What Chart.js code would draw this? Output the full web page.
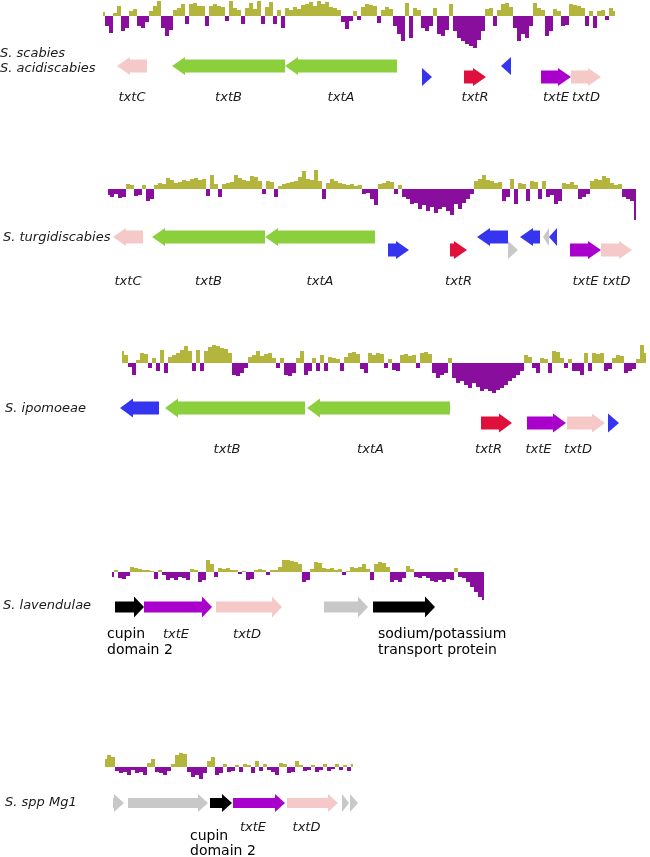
<!DOCTYPE html>
<html><head><meta charset="utf-8">
<script src="https://cdn.jsdelivr.net/npm/chart.js@4.4.1/dist/chart.umd.min.js"></script>
<style>html,body{margin:0;padding:0;background:#fff;}canvas{display:block}</style>
</head><body>
<canvas id="c" width="650" height="857"></canvas>
<script>
// ---------------- DATA ----------------
const speciesNames = ["S. scabies", "S. acidiscabies", "S. turgidiscabies", "S. ipomoeae", "S. lavendulae", "S. spp Mg1"];

// GC-skew style profile values (deviation from mean), one value per window
const gcStart = [103, 108, 122, 112, 105];
const gcStep = 4;
const gcTrack1 = [4,-10,-17,3,10,-15,-12,5,7,-10,-12,-6,5,10,15,-12,-20,-14,6,8,12,-8,12,13,10,10,-10,10,12,10,9,-5,15,8,6,-8,8,13,7,15,-8,9,14,-8,6,-12,8,6,9,7,11,12,14,10,15,12,14,9,8,6,-6,-13,-5,5,-4,9,12,11,10,-7,6,9,7,-10,-18,-25,13,-22,8,6,-12,-15,-10,8,-18,-20,-14,12,-15,-22,-25,-28,-30,-32,-24,-15,7,8,-10,6,12,13,9,-12,-25,-18,-22,-10,13,8,6,-20,-15,7,5,-10,-9,12,11,10,8,-10,5,-12,5,6,-4,8,5];
const gcTrack2 = [-6,-8,-5,-9,-8,5,4,-7,-6,4,-12,-10,4,6,5,11,9,6,7,9,8,10,11,9,10,-7,14,5,-8,5,6,7,14,11,9,8,13,12,8,-5,8,7,-8,3,5,6,7,8,12,18,10,9,19,8,-10,6,10,8,6,5,4,5,3,4,-5,-4,-10,-16,5,6,8,7,-5,4,-8,-10,-15,-14,-20,-16,-22,-18,-24,-20,-18,-22,-26,-15,-20,-14,-10,-5,8,10,14,9,8,6,7,-12,-8,10,-15,6,5,-12,8,7,-10,8,-8,-6,-15,-12,6,5,7,4,-10,-8,-5,8,10,9,13,11,6,4,5,-8,-10,-12,-31];
const gcTrack3 = [12,8,-4,-12,3,10,9,-5,5,-8,13,-10,6,8,10,13,17,12,-8,13,-8,12,16,18,17,15,14,10,-12,-13,-10,-5,6,8,12,7,9,10,5,-5,5,-12,-13,-10,5,12,-12,-8,5,-8,8,-8,6,5,4,-8,6,10,11,9,-6,-10,10,8,10,9,-5,4,-7,-8,8,9,7,8,-5,10,11,9,-10,-15,-12,-10,5,-15,-20,-18,-22,-25,-20,-24,-28,-26,-28,-30,-27,-25,-22,-18,-15,-12,-8,8,6,-5,-10,5,4,-10,12,11,5,-5,4,-8,-8,-12,10,-8,10,9,10,-8,-6,5,8,7,-10,-8,-6,4,18,10];
const gcTrack4 = [-5,2,-6,-7,-4,5,4,3,2,2,1,-7,2,-3,-8,-6,-8,-5,-6,-8,3,2,-10,-8,12,8,-5,4,3,4,2,2,-2,1,-8,-7,2,3,2,-3,2,2,5,12,12,11,10,8,-10,-8,3,10,9,4,3,4,2,3,-3,1,5,4,5,8,3,-8,8,10,9,5,-10,-8,-10,-6,6,3,-5,-6,-4,-6,-9,-10,-8,-10,-7,-8,4,-5,-6,-10,-15,-20,-25,-28];
const gcTrack5 = [8,12,10,-4,-6,-5,-8,-3,-6,-5,-8,4,8,-5,-6,-8,-4,3,12,14,13,-5,-10,-8,-12,-6,6,10,-8,-6,3,-5,-4,2,-5,3,2,-6,6,-4,3,-3,-5,-8,4,3,-6,-5,6,2,-4,-3,2,-5,-3,3,-4,-2,3,-3,2,-4,3];

// genes: [label, start, end, strand, kind, lane]
const genesTrack1 = [
  ["txtC",117,147,-1,"pink",0],
  ["txtB",172,285,-1,"green",0],
  ["txtA",285,397,-1,"green",0],
  ["",422,432,1,"blue",1],
  ["txtR",464,486,1,"red",1],
  ["",501,511,-1,"blue",0],
  ["txtE",541,571,1,"purple",1],
  ["txtD",571,601,1,"pink",1]
];
const genesTrack2 = [
  ["txtC",113,143,-1,"pink",0],
  ["txtB",152,265,-1,"green",0],
  ["txtA",265,375,-1,"green",0],
  ["",388,409,1,"blue",1],
  ["txtR",450,467,1,"red",1],
  ["",477,508,-1,"blue",0],
  ["",508,518,1,"grey",1],
  ["",520,540,-1,"blue",0],
  ["",543,549,-1,"grey",0],
  ["",549,557,-1,"blue",0],
  ["txtE",570,601,1,"purple",1],
  ["txtD",601,632,1,"pink",1]
];
const genesTrack3 = [
  ["",120,159,-1,"blue",0],
  ["txtB",165,305,-1,"green",0],
  ["txtA",307,450,-1,"green",0],
  ["txtR",481,512,1,"red",1],
  ["txtE",527,566,1,"purple",1],
  ["txtD",567,605,1,"pink",1],
  ["",608,619,1,"blue",1]
];
const genesTrack4 = [
  ["",115,144,1,"black",0],
  ["txtE",144,212,1,"purple",0],
  ["txtD",216,282,1,"pink",0],
  ["",324,368,1,"grey",0],
  ["",373,435,1,"black",0]
];
const genesTrack5 = [
  ["",113,124,1,"grey",0],
  ["",128,208,1,"grey",0],
  ["",210,232,1,"black",0],
  ["txtE",233,285,1,"purple",0],
  ["txtD",287,338,1,"pink",0],
  ["",342,349,1,"grey",0],
  ["",350,358,1,"grey",0]
];
const noteTexts = ["cupin","domain 2","sodium/potassium","transport protein","cupin","domain 2"];

// ---------------- LAYOUT / STYLE ----------------
const gcTracks = [gcTrack1, gcTrack2, gcTrack3, gcTrack4, gcTrack5];
const geneTracks = [genesTrack1, genesTrack2, genesTrack3, genesTrack4, genesTrack5];
const trackBase = [16, 189, 363, 572, 767];
const laneY = [[66,77],[237,250],[408,423],[607,607],[803,803]];
const geneLabelY = [98, 282, 450, 635, 828];
const labelShift = [0, 0, -8, -2, -6];
const arrowDims = [
  {body:6.5, head:9, len:13},{body:6.5, head:9, len:13},{body:6.5, head:9.5, len:13},
  {body:5.5, head:10.5, len:10},{body:5, head:9, len:10}
];
const speciesPos = [[0,54],[0,69],[3,238],[5,409],[3,606],[5,803]];
const notePos = [[107,634],[107,650],[378,634],[378,650],[190,836],[190,851]];
const COLORS = {green:'#8ccf3c', pink:'#f4c9c8', blue:'#3535f0', red:'#e0103c', purple:'#aa00cc', grey:'#c8c8c8', black:'#000000'};
const OLIVE = '#b4b53c', VIOLET = '#8a0e9e';

// ---------------- BUILD DATASETS ----------------
const datasets = [];
gcTracks.forEach((vals, t) => {
  const base = trackBase[t];
  const pts = vals.map((v, i) => ({x: gcStart[t] + i * gcStep, y: base - v}));
  datasets.push({
    type: 'line', data: pts, stepped: 'middle', borderWidth: 0, pointRadius: 0,
    borderColor: 'rgba(0,0,0,0)',
    fill: {target: {value: base}, above: OLIVE, below: VIOLET}
  });
});
function arrowPoly(s, e, strand, yc, d) {
  const L = e - s, hl = Math.min(d.len, L);
  if (strand > 0) {
    const n = e - hl;
    return [{x:s,y:yc-d.body},{x:n,y:yc-d.body},{x:n,y:yc-d.head},{x:e,y:yc},{x:n,y:yc+d.head},{x:n,y:yc+d.body},{x:s,y:yc+d.body}];
  } else {
    const n = s + hl;
    return [{x:e,y:yc-d.body},{x:n,y:yc-d.body},{x:n,y:yc-d.head},{x:s,y:yc},{x:n,y:yc+d.head},{x:n,y:yc+d.body},{x:e,y:yc+d.body}];
  }
}
geneTracks.forEach((genes, t) => {
  genes.forEach(g => {
    const [name, s, e, strand, kind, lane] = g;
    datasets.push({
      type: 'line', data: arrowPoly(s, e, strand, laneY[t][lane], arrowDims[t]),
      fill: 'shape', backgroundColor: COLORS[kind], borderColor: COLORS[kind],
      borderWidth: 0, pointRadius: 0, tension: 0
    });
  });
});

const textPlugin = {
  id: 'texts',
  afterDatasetsDraw(chart) {
    const {ctx, scales: {x, y}} = chart;
    ctx.save();
    ctx.textBaseline = 'middle';
    ctx.fillStyle = '#1a1a1a';
    ctx.font = 'italic 13px "DejaVu Sans"';
    ctx.textAlign = 'left';
    speciesNames.forEach((s, i) => ctx.fillText(s, x.getPixelForValue(speciesPos[i][0]), y.getPixelForValue(speciesPos[i][1])));
    ctx.textAlign = 'center';
    geneTracks.forEach((genes, t) => {
      genes.forEach(g => {
        if (!g[0]) return;
        ctx.fillText(g[0], x.getPixelForValue((g[1] + g[2]) / 2 + labelShift[t]), y.getPixelForValue(geneLabelY[t]));
      });
    });
    ctx.font = '14px "DejaVu Sans"';
    ctx.textAlign = 'left';
    ctx.fillStyle = '#000';
    noteTexts.forEach((s, i) => ctx.fillText(s, x.getPixelForValue(notePos[i][0]), y.getPixelForValue(notePos[i][1])));
    ctx.restore();
  }
};

new Chart(document.getElementById('c'), {
  type: 'line',
  data: {datasets},
  options: {
    responsive: false, animation: false, devicePixelRatio: 1,
    layout: {padding: 0},
    plugins: {legend: {display: false}, tooltip: {enabled: false}},
    scales: {
      x: {type: 'linear', min: 0, max: 650, display: false},
      y: {type: 'linear', min: 0, max: 857, reverse: true, display: false}
    }
  },
  plugins: [textPlugin]
});
</script>
</body></html>
